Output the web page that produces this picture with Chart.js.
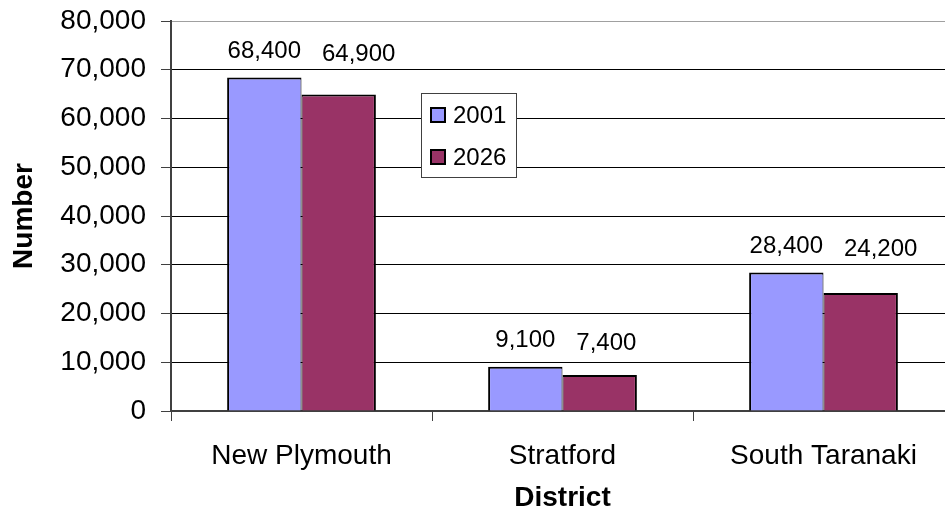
<!DOCTYPE html>
<html>
<head>
<meta charset="utf-8">
<script src="https://cdn.jsdelivr.net/npm/chart.js@4/dist/chart.umd.min.js"></script>
<style>
  html, body { margin: 0; padding: 0; background: #fff; }
  #wrap { width: 945px; height: 512px; overflow: hidden; position: relative; }
  canvas { display: block; }
</style>
</head>
<body>
<div id="wrap"><canvas id="chart" width="960" height="512"></canvas></div>
<script>
// District population, 2001 vs projected 2026
const districts = ['New Plymouth', 'Stratford', 'South Taranaki'];
const years = ['2001', '2026'];
const pop2001 = [68400, 9100, 28400];
const pop2026 = [64900, 7400, 24200];
const yTicks = [0, 10000, 20000, 30000, 40000, 50000, 60000, 70000, 80000];

const FONT = '"Liberation Sans", Arial, sans-serif';
const AXIS = '#404040';
const fmt = v => v.toLocaleString('en-US');

Chart.defaults.font.family = FONT;
Chart.defaults.color = '#000';

// value labels above each bar; the second label of a pair is nudged
// right when it would crowd the first one
const valueLabels = {
  id: 'valueLabels',
  afterDatasetsDraw(chart) {
    const ctx = chart.ctx;
    const a = chart.getDatasetMeta(0).data;
    const b = chart.getDatasetMeta(1).data;
    ctx.save();
    ctx.font = '24px ' + FONT;
    ctx.fillStyle = '#000';
    ctx.textAlign = 'center';
    ctx.textBaseline = 'alphabetic';
    a.forEach((bar, i) => {
      const t1 = fmt(chart.data.datasets[0].data[i]);
      const w1 = ctx.measureText(t1).width;
      const y1 = bar.y - 20;
      ctx.fillText(t1, bar.x, y1);

      const bar2 = b[i];
      const t2 = fmt(chart.data.datasets[1].data[i]);
      const w2 = ctx.measureText(t2).width;
      let x2 = bar2.x, y2 = bar2.y - 20;
      const minLeft = bar.x + w1 / 2 + 21;
      if (x2 - w2 / 2 < minLeft) {
        x2 = minLeft + w2 / 2;
        y2 = y1 + 3;
      }
      ctx.fillText(t2, x2, y2);
    });
    ctx.restore();
  }
};

// boxed legend floating inside the plot area
const boxLegend = {
  id: 'boxLegend',
  afterDatasetsDraw(chart) {
    const ctx = chart.ctx;
    const area = chart.chartArea;
    const x = area.left + 250, y = area.top + 72;
    const w = 95, h = 84;
    ctx.save();
    ctx.fillStyle = '#fff';
    ctx.fillRect(x, y, w, h);
    ctx.strokeStyle = AXIS;
    ctx.lineWidth = 1;
    ctx.strokeRect(x + 0.5, y + 0.5, w, h);
    ctx.font = '24px ' + FONT;
    ctx.textAlign = 'left';
    ctx.textBaseline = 'middle';
    chart.data.datasets.forEach((ds, i) => {
      const cy = y + 22 + i * 42;
      ctx.fillStyle = ds.backgroundColor;
      ctx.fillRect(x + 10, cy - 7, 14, 14);
      ctx.strokeStyle = '#000';
      ctx.lineWidth = 2;
      ctx.strokeRect(x + 10, cy - 7, 14, 14);
      ctx.fillStyle = '#000';
      ctx.fillText(ds.label, x + 32, cy + 1);
    });
    ctx.restore();
  }
};

new Chart(document.getElementById('chart').getContext('2d'), {
  type: 'bar',
  data: {
    labels: districts,
    datasets: [
      {
        label: years[0],
        data: pop2001,
        backgroundColor: '#9999ff',
        borderColor: '#000',
        borderWidth: { top: 2, left: 2, right: 1, bottom: 0 },
      },
      {
        label: years[1],
        data: pop2026,
        backgroundColor: '#993366',
        borderColor: '#000',
        borderWidth: { top: 2, left: 1, right: 2, bottom: 0 },
      },
    ],
  },
  options: {
    responsive: false,
    animation: false,
    categoryPercentage: 0.57,
    barPercentage: 1,
    layout: { padding: { top: 21, right: 6, bottom: 0, left: 0 } },
    plugins: {
      legend: { display: false },
      tooltip: { enabled: false },
    },
    scales: {
      x: {
        grid: { drawOnChartArea: false, tickLength: 10, tickColor: AXIS, offset: true },
        border: { color: AXIS, width: 2 },
        ticks: { font: { size: 28 }, padding: 18, color: '#000' },
        title: {
          display: true, text: 'District',
          font: { size: 28, weight: 'bold', lineHeight: 1 },
          padding: { top: 0, bottom: 0 }, color: '#000',
        },
        afterFit(scale) { scale.height = 101; },
      },
      y: {
        min: 0,
        max: 80000,
        afterBuildTicks(scale) { scale.ticks = yTicks.map(v => ({ value: v })); },
        grid: {
          color: c => (c.tick && c.tick.value === 80000 ? '#a0a0a0' : '#000'),
          tickLength: 10,
          tickColor: AXIS,
        },
        border: { color: AXIS, width: 2 },
        ticks: { font: { size: 28 }, padding: 15, color: '#000', callback: v => fmt(v) },
        title: {
          display: true, text: 'Number',
          font: { size: 28, weight: 'bold' },
          padding: { top: 7, bottom: 0 }, color: '#000',
        },
        afterFit(scale) {
          scale.width = 171;
          scale.paddingTop = 0;
          scale.paddingBottom = 0;
        },
      },
    },
  },
  plugins: [valueLabels, boxLegend],
});
</script>
</body>
</html>
